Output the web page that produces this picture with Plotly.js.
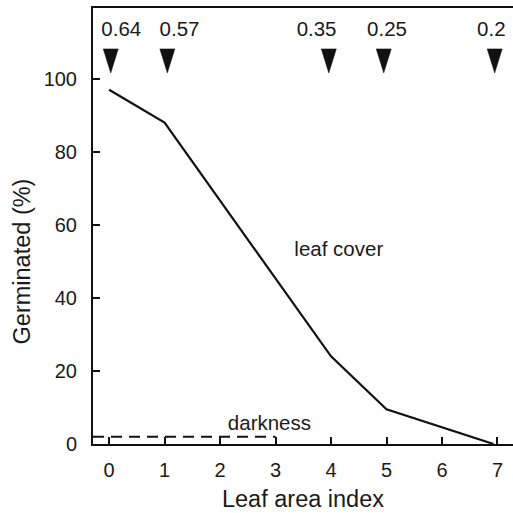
<!DOCTYPE html>
<html>
<head>
<meta charset="utf-8">
<script src="https://cdn.plot.ly/plotly-3.0.1.min.js"></script>
<style>html,body{margin:0;padding:0;background:#fff;}#chart{width:513px;height:513px;}</style>
</head>
<body>
<div id="chart"></div>
<script>
// Leaf cover curve
var leafX = [0, 1, 4, 5, 6.93];
var leafY = [97, 88, 24, 9.5, 0];
// Darkness control (dashed)
var darkX = [-0.29, 3];
var darkY = [2, 2];
// Arrow markers (top) and their value labels
var arrowX = [0.03, 1.05, 3.96, 4.95, 6.95];
var arrowLabels = ["0.64", "0.57", "0.35", "0.25", "0.2"];
var labelX = [0.22, 1.27, 3.74, 5.01, 6.89];
var labelY = 113.2;
var arrowTop = 108.2;
var arrowTip = 101.6;
var arrowHalfW = 0.135;
// Text labels inside plot
var noteText = ["leaf cover", "darkness"];
var noteX = [4.14, 2.89];
var noteY = [52.8, 5.3];
// Axis ticks
var xTicks = [0, 1, 2, 3, 4, 5, 6, 7];
var yTicks = [0, 20, 40, 60, 80, 100];

var FONT = "Liberation Sans, Arial, Helvetica, sans-serif";

// Build the tall triangles from arrowX
var triX = [], triY = [];
arrowX.forEach(function (x) {
  triX.push(x - arrowHalfW, x + arrowHalfW, x, x - arrowHalfW, null);
  triY.push(arrowTop, arrowTop, arrowTip, arrowTop, null);
});

var traces = [
  {
    x: leafX, y: leafY, type: "scatter", mode: "lines",
    line: {color: "#111", width: 2.2}, hoverinfo: "skip", showlegend: false
  },
  {
    x: darkX, y: darkY, type: "scatter", mode: "lines",
    line: {color: "#111", width: 2, dash: "11px,7px"}, hoverinfo: "skip", showlegend: false
  },
  {
    x: triX, y: triY, type: "scatter", mode: "lines", fill: "toself",
    fillcolor: "#111", line: {color: "#111", width: 0.5}, hoverinfo: "skip", showlegend: false
  },
  {
    x: labelX, y: arrowLabels.map(function () { return labelY; }),
    text: arrowLabels, type: "scatter", mode: "text", textposition: "middle center",
    textfont: {family: FONT, size: 20.5, color: "#1a1a1a"}, hoverinfo: "skip", showlegend: false
  },
  {
    x: noteX, y: noteY, text: noteText,
    type: "scatter", mode: "text", textposition: "middle center",
    textfont: {family: FONT, size: 20.5, color: "#1a1a1a"}, hoverinfo: "skip", showlegend: false
  }
];

var layout = {
  width: 513, height: 513,
  margin: {l: 93, r: 0, t: 8, b: 69, pad: 0},
  paper_bgcolor: "#fff", plot_bgcolor: "#fff",
  font: {family: FONT, size: 20, color: "#1a1a1a"},
  showlegend: false,
  xaxis: {
    range: [-0.29, 7.28], tickvals: xTicks, ticktext: xTicks.map(String),
    ticks: "inside", ticklen: 7, tickwidth: 2, tickcolor: "#111",
    showline: true, linecolor: "#111", linewidth: 2, mirror: true,
    showgrid: false, zeroline: false, ticklabelstandoff: 7,
    tickfont: {family: FONT, size: 20, color: "#1a1a1a"},
    title: {text: "Leaf area index", font: {family: FONT, size: 23.5, color: "#1a1a1a"}, standoff: 11}
  },
  yaxis: {
    range: [0, 119.4], tickvals: yTicks, ticktext: yTicks.map(String),
    ticks: "inside", ticklen: 7, tickwidth: 2, tickcolor: "#111",
    showline: true, linecolor: "#111", linewidth: 2, mirror: false,
    showgrid: false, zeroline: false, ticklabelstandoff: 10,
    tickfont: {family: FONT, size: 20, color: "#1a1a1a"}
  },
  annotations: [{
    text: "Germinated (%)", textangle: -90, showarrow: false,
    xref: "paper", x: 0, xanchor: "center", xshift: -71,
    yref: "y", y: 50, yanchor: "middle",
    font: {family: FONT, size: 23.5, color: "#1a1a1a"}
  }]
};

Plotly.newPlot("chart", traces, layout, {staticPlot: true, displayModeBar: false});
</script>
</body>
</html>
